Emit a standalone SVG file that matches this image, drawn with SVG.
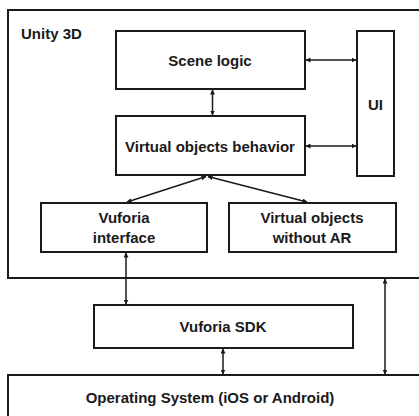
<svg xmlns="http://www.w3.org/2000/svg" width="419" height="416" viewBox="0 0 419 416">
<defs>
<marker id="ah" viewBox="0 0 10 10" refX="9" refY="5" markerWidth="5" markerHeight="5" orient="auto-start-reverse" markerUnits="userSpaceOnUse">
<path d="M0,0 L10,5 L0,10 z" fill="#1a1a1a"/>
</marker>
<style>
.box{fill:#fff;stroke:#1a1a1a;stroke-width:2}
.frame{fill:none;stroke:#1a1a1a;stroke-width:2}
.t{font-family:"Liberation Sans",Arial,sans-serif;font-weight:bold;font-size:15px;fill:#1a1a1a;text-anchor:middle;dominant-baseline:central}
.c{stroke:#1a1a1a;stroke-width:1.5;fill:none;marker-start:url(#ah);marker-end:url(#ah)}
</style>
</defs>
<rect width="419" height="416" fill="#fff"/>
<g id="unity">
<rect class="frame" x="8" y="10" width="420" height="268"/>
<text class="t" x="21" y="33" style="text-anchor:start">Unity 3D</text>
</g>
<g id="scene-logic">
<rect class="box" x="116" y="31" width="189" height="58"/>
<text class="t" x="210" y="60">Scene logic</text>
</g>
<g id="vob">
<rect class="box" x="116" y="116" width="189" height="59"/>
<text class="t" x="210" y="146">Virtual objects behavior</text>
</g>
<g id="ui">
<rect class="box" x="357" y="31" width="37" height="145"/>
<text class="t" x="375.5" y="104">UI</text>
</g>
<g id="vuforia-interface">
<rect class="box" x="41" y="203" width="166" height="49"/>
<text class="t" x="124" y="217">Vuforia</text>
<text class="t" x="124" y="237">interface</text>
</g>
<g id="vo-without-ar">
<rect class="box" x="229" y="203" width="167" height="49"/>
<text class="t" x="312" y="217">Virtual objects</text>
<text class="t" x="312" y="237">without AR</text>
</g>
<g id="vuforia-sdk">
<rect class="box" x="94" y="305" width="259" height="43"/>
<text class="t" x="223" y="326">Vuforia SDK</text>
</g>
<g id="os">
<rect class="frame" x="8" y="375" width="420" height="60"/>
<text class="t" x="210" y="397">Operating System (iOS or Android)</text>
</g>
<g id="connectors">
<line class="c" x1="306" y1="60" x2="356" y2="60"/>
<line class="c" x1="306" y1="146" x2="356" y2="146"/>
<line class="c" x1="212.5" y1="90" x2="212.5" y2="115"/>
<line class="c" x1="206" y1="176.5" x2="127" y2="202"/>
<line class="c" x1="208" y1="176.5" x2="307" y2="202"/>
<line class="c" x1="126" y1="253" x2="126" y2="304"/>
<line class="c" x1="223" y1="349" x2="223" y2="374"/>
<line class="c" x1="385" y1="279" x2="385" y2="374"/>
</g>
</svg>
